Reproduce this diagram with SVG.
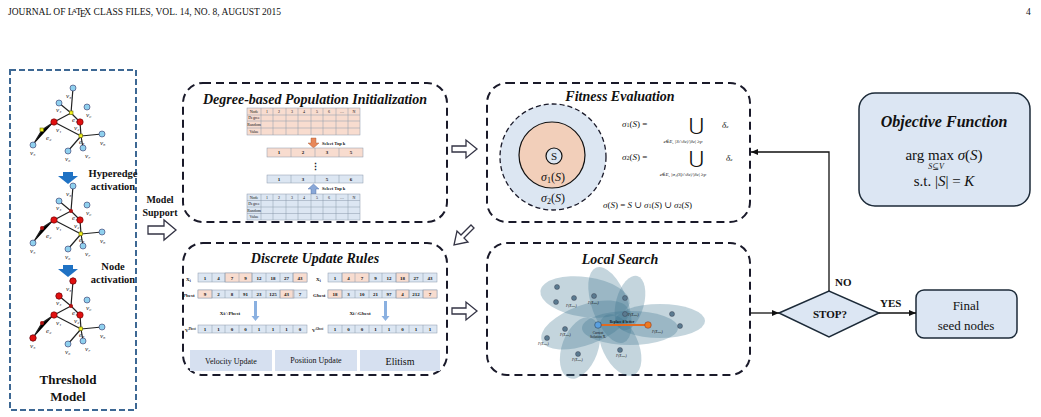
<svg xmlns="http://www.w3.org/2000/svg" width="1041" height="417" viewBox="0 0 1041 417" font-family="'Liberation Serif','DejaVu Serif',serif">
<style>
text{font-family:"Liberation Serif","DejaVu Serif",serif;fill:#111}
.panel{fill:#fff;stroke:#1a1a2a;stroke-width:2;stroke-dasharray:8 5}
.title{font-weight:bold;font-style:italic;font-size:14px;text-anchor:middle}
.e{stroke:#222;stroke-width:1.2}
.bn{fill:#8fd0ee;stroke:#336;stroke-width:.6}
.rn{fill:#e01010;stroke:#600;stroke-width:.6}
.yn{fill:#f0f020;stroke:#660;stroke-width:.6}
.lb{font-style:italic;font-size:7px;fill:#222}
.pc{fill:#f8dccf;stroke:#8a99aa;stroke-width:.5}
.bc{fill:#dce6f2;stroke:#8a99aa;stroke-width:.5}
.ct{font-size:4px;text-anchor:middle}
.ut{font-size:5px;text-anchor:middle;font-weight:bold}
.hol{fill:#fff;stroke:#334;stroke-width:1.3}
.ln{stroke:#111;stroke-width:1.3;fill:none}
.ell{fill:#3d7390;fill-opacity:.3}
.dot{fill:#5a7a90;stroke:#334;stroke-width:.4}
.f{font-size:9px;font-style:italic}
</style>
<defs>
<marker id="ar" markerWidth="8" markerHeight="8" refX="7" refY="4" orient="auto" markerUnits="userSpaceOnUse"><path d="M0,1 L7,4 L0,7z" fill="#111"/></marker>
<g id="graph">
<path class="e" d="M73,88L71,113M59,103L71,113M71,113L54,122M71,113L80,122M54,122L42,130L33,145M54,122L81,136M80,122L81,136M81,136L68,151M81,136L83,148M81,136L102,134"/>
<circle class="bn" cx="73" cy="88" r="3"/><circle class="bn" cx="59" cy="103" r="3"/>
<circle class="bn" cx="87" cy="107" r="3"/><circle class="bn" cx="33" cy="145" r="3"/>
<circle class="bn" cx="68" cy="151" r="3"/><circle class="bn" cx="83" cy="148" r="3"/>
<circle class="bn" cx="102" cy="134" r="3"/>
<circle class="rn" cx="54" cy="122" r="3.2"/><circle class="rn" cx="80" cy="122" r="3.2"/>
<text class="lb" x="66" y="98">v₃</text><text class="lb" x="56" y="112">v₄</text><text class="lb" x="72" y="122">e₁</text>
<text class="lb" x="86" y="117">v₉</text><text class="lb" x="56" y="132">v₁</text><text class="lb" x="74" y="130">v₂</text>
<text class="lb" x="46" y="140">e₂</text><text class="lb" x="79" y="144">e₃</text><text class="lb" x="30" y="155">v₅</text>
<text class="lb" x="65" y="161">v₆</text><text class="lb" x="85" y="158">v₇</text><text class="lb" x="100" y="145">v₈</text>
</g>
</defs>
<rect width="1041" height="417" fill="#fff"/>
<text x="8" y="15" font-size="9.5px">JOURNAL OF L<tspan font-size="7px" dx="-2" dy="-2">A</tspan><tspan dx="-1" dy="2">T</tspan><tspan dx="-1.5" dy="2">E</tspan><tspan dx="-1.5" dy="-2">X CLASS FILES, VOL. 14, NO. 8, AUGUST 2015</tspan></text>
<text x="1026" y="15" font-size="9.5px">4</text>

<g id="threshold-model">
<rect x="10" y="70" width="126" height="340" fill="#fff" stroke="#3d6894" stroke-width="2" stroke-dasharray="6 3"/>
<use href="#graph"/>
<rect x="69.5" y="111" width="3.5" height="3.5" class="yn"/><rect x="40" y="128" width="3.5" height="3.5" class="yn"/><rect x="79" y="134" width="3.5" height="3.5" class="yn"/>
<use href="#graph" y="98"/>
<circle cx="71" cy="211" r="2" fill="#b01010"/><circle cx="42" cy="228" r="2" fill="#b01010"/><rect x="79" y="232" width="3.5" height="3.5" class="yn"/>
<use href="#graph" y="193"/>
<circle class="rn" cx="73" cy="281" r="3.2"/><circle class="rn" cx="59" cy="296" r="3.2"/><circle class="rn" cx="33" cy="338" r="3.2"/>
<circle cx="71" cy="306" r="2" fill="#b01010"/><circle cx="42" cy="323" r="2" fill="#b01010"/><rect x="79" y="327" width="3.5" height="3.5" class="yn"/>
<path d="M63,172h10v4h5l-10,8l-10,-8h5z" fill="#1f72c4"/>
<path d="M63,265h10v4h5l-10,8l-10,-8h5z" fill="#1f72c4"/>
<text x="113" y="177" font-size="10.5px" font-weight="bold" text-anchor="middle">Hyperedge</text>
<text x="113" y="190" font-size="10.5px" font-weight="bold" text-anchor="middle">activation</text>
<text x="113" y="270" font-size="10.5px" font-weight="bold" text-anchor="middle">Node</text>
<text x="113" y="283" font-size="10.5px" font-weight="bold" text-anchor="middle">activation</text>
<text x="68" y="384" font-size="13px" font-weight="bold" text-anchor="middle">Threshold</text>
<text x="68" y="401" font-size="13px" font-weight="bold" text-anchor="middle">Model</text>
</g>

<g id="model-support">
<text x="160" y="203" font-size="10px" font-weight="bold" text-anchor="middle">Model</text>
<text x="160" y="216" font-size="10px" font-weight="bold" text-anchor="middle">Support</text>
</g>

<g id="degree-init">
<rect class="panel" x="183" y="83" width="264" height="139" rx="20"/>
<text class="title" x="315" y="104">Degree-based Population Initialization</text>
<rect x="247" y="108" width="113" height="27" fill="#f8dccf" stroke="#8a99aa" stroke-width=".5"/>
<path d="M247,115h113M247,121h113M247,128h113M261,108v27M273,108v27M286,108v27M298,108v27M311,108v27M323,108v27M336,108v27M348,108v27" stroke="#8a99aa" stroke-width=".5"/>
<text class="ct" x="254" y="113">Node</text><text class="ct" x="254" y="119">Degree</text><text class="ct" x="254" y="126">Random</text><text class="ct" x="254" y="133">Value</text>
<text class="ct" x="267" y="113">1</text><text class="ct" x="279" y="113">2</text><text class="ct" x="292" y="113">3</text><text class="ct" x="304" y="113">4</text><text class="ct" x="317" y="113">5</text><text class="ct" x="329" y="113">6</text><text class="ct" x="342" y="113">…</text><text class="ct" x="354" y="113">N</text>
<path d="M311,138h5v5h3l-5.5,5l-5.5,-5h3z" fill="#e8885a" stroke="#a05030" stroke-width=".4"/>
<text x="322" y="145" font-size="4.5px" font-weight="bold">Select Top k</text>
<rect x="267" y="148" width="96" height="9" fill="#f8dccf" stroke="#8a99aa" stroke-width=".5"/>
<path d="M291,148v9M315,148v9M339,148v9" stroke="#8a99aa" stroke-width=".5"/>
<text class="ut" x="279" y="154">1</text><text class="ut" x="303" y="154">2</text><text class="ut" x="327" y="154">3</text><text class="ut" x="351" y="154">5</text>
<text x="315" y="170" font-size="9px" font-weight="bold" text-anchor="middle">⋮</text>
<rect x="267" y="175" width="96" height="8" fill="#dce6f2" stroke="#8a99aa" stroke-width=".5"/>
<path d="M291,175v8M315,175v8M339,175v8" stroke="#8a99aa" stroke-width=".5"/>
<text class="ut" x="279" y="181">1</text><text class="ut" x="303" y="181">3</text><text class="ut" x="327" y="181">5</text><text class="ut" x="351" y="181">6</text>
<path d="M311,194h5v-5h3l-5.5,-5l-5.5,5h3z" fill="#8aa8d8" stroke="#4060a0" stroke-width=".4"/>
<text x="322" y="190" font-size="4.5px" font-weight="bold">Select Top k</text>
<rect x="247" y="194" width="113" height="26" fill="#dce6f2" stroke="#8a99aa" stroke-width=".5"/>
<path d="M247,200.5h113M247,207h113M247,213.5h113M261,194v26M273,194v26M286,194v26M298,194v26M311,194v26M323,194v26M336,194v26M348,194v26" stroke="#8a99aa" stroke-width=".5"/>
<text class="ct" x="254" y="199">Node</text><text class="ct" x="254" y="205">Degree</text><text class="ct" x="254" y="212">Random</text><text class="ct" x="254" y="218">Value</text>
<text class="ct" x="267" y="199">1</text><text class="ct" x="279" y="199">2</text><text class="ct" x="292" y="199">3</text><text class="ct" x="304" y="199">4</text><text class="ct" x="317" y="199">5</text><text class="ct" x="329" y="199">6</text><text class="ct" x="342" y="199">…</text><text class="ct" x="354" y="199">N</text>
</g>

<g id="discrete-update">
<rect class="panel" x="183" y="243" width="264" height="132" rx="20"/>
<text class="title" x="315" y="263">Discrete Update Rules</text>
<text x="186" y="281" font-size="5px" font-weight="bold">X<tspan font-size="3.5px" dy="1">i</tspan></text>
<text x="183" y="297" font-size="5px" font-weight="bold">Pbest</text>
<text x="185" y="332" font-size="5px" font-weight="bold">V<tspan font-size="3px" dy="-2">Pbest</tspan></text>
<text x="316" y="281" font-size="5px" font-weight="bold">X<tspan font-size="3.5px" dy="1">i</tspan></text>
<text x="313" y="297" font-size="5px" font-weight="bold">Gbest</text>
<text x="312" y="332" font-size="5px" font-weight="bold">V<tspan font-size="3px" dy="-2">Gbest</tspan></text>
<g stroke="#8a99aa" stroke-width=".5">
<rect class="bc" x="198" y="273" width="109" height="9"/><rect class="pc" x="225" y="273" width="27" height="9"/><rect class="pc" x="293" y="273" width="14" height="9"/>
<rect class="bc" x="198" y="290" width="109" height="8"/><rect class="pc" x="198" y="290" width="14" height="8"/><rect class="pc" x="280" y="290" width="14" height="8"/>
<rect class="bc" x="198" y="325" width="109" height="8"/>
<rect class="bc" x="328" y="273" width="109" height="9"/><rect class="pc" x="342" y="273" width="27" height="9"/><rect class="pc" x="396" y="273" width="13" height="9"/>
<rect class="bc" x="328" y="290" width="109" height="8"/><rect class="pc" x="328" y="290" width="14" height="8"/><rect class="pc" x="396" y="290" width="13" height="8"/><rect class="pc" x="423" y="290" width="14" height="8"/>
<rect class="bc" x="328" y="325" width="109" height="8"/>
<path d="M212,273v9M225,273v9M239,273v9M252,273v9M266,273v9M280,273v9M293,273v9M212,290v8M225,290v8M239,290v8M252,290v8M266,290v8M280,290v8M293,290v8M212,325v8M225,325v8M239,325v8M252,325v8M266,325v8M280,325v8M293,325v8M342,273v9M355,273v9M369,273v9M382,273v9M396,273v9M409,273v9M423,273v9M342,290v8M355,290v8M369,290v8M382,290v8M396,290v8M409,290v8M423,290v8M342,325v8M355,325v8M369,325v8M382,325v8M396,325v8M409,325v8M423,325v8"/>
</g>
<g class="ut" font-size="4.5px">
<text x="205" y="280">1</text><text x="218.5" y="280">4</text><text x="232" y="280">7</text><text x="245.5" y="280">9</text><text x="259" y="280">12</text><text x="273" y="280">18</text><text x="286.5" y="280">27</text><text x="300" y="280">43</text>
<text x="205" y="296">9</text><text x="218.5" y="296">2</text><text x="232" y="296">8</text><text x="245.5" y="296">91</text><text x="259" y="296">23</text><text x="273" y="296">125</text><text x="286.5" y="296">43</text><text x="300" y="296">7</text>
<text x="205" y="331">1</text><text x="218.5" y="331">1</text><text x="232" y="331">0</text><text x="245.5" y="331">0</text><text x="259" y="331">1</text><text x="273" y="331">1</text><text x="286.5" y="331">1</text><text x="300" y="331">0</text>
<text x="335" y="280">1</text><text x="348.5" y="280">4</text><text x="362" y="280">7</text><text x="375.5" y="280">9</text><text x="389" y="280">12</text><text x="402.5" y="280">18</text><text x="416" y="280">27</text><text x="430" y="280">43</text>
<text x="335" y="296">18</text><text x="348.5" y="296">3</text><text x="362" y="296">10</text><text x="375.5" y="296">21</text><text x="389" y="296">97</text><text x="402.5" y="296">4</text><text x="416" y="296">212</text><text x="430" y="296">7</text>
<text x="335" y="331">1</text><text x="348.5" y="331">0</text><text x="362" y="331">0</text><text x="375.5" y="331">1</text><text x="389" y="331">1</text><text x="402.5" y="331">0</text><text x="416" y="331">1</text><text x="430" y="331">1</text>
</g>
<path d="M254,301h3v15h2.5l-4,5l-4,-5h2.5z" fill="#8ab0e0"/>
<path d="M384,301h3v15h2.5l-4,5l-4,-5h2.5z" fill="#8ab0e0"/>
<text x="230" y="315" font-size="5px" font-weight="bold" text-anchor="middle">Xi∩Pbest</text>
<text x="360" y="315" font-size="5px" font-weight="bold" text-anchor="middle">Xi∩Gbest</text>
<rect x="190" y="350" width="82" height="21" fill="#d6e0f0"/>
<rect x="275" y="350" width="82" height="21" fill="#d6e0f0"/>
<rect x="360" y="350" width="80" height="21" fill="#d6e0f0"/>
<text x="231" y="364" font-size="8px" text-anchor="middle">Velocity Update</text>
<text x="316" y="363" font-size="8px" text-anchor="middle">Position Update</text>
<text x="400" y="365" font-size="10px" text-anchor="middle">Elitism</text>
</g>

<g id="fitness">
<rect class="panel" x="487" y="83" width="263" height="139" rx="20"/>
<text class="title" x="620" y="101">Fitness Evaluation</text>
<circle cx="553" cy="157" r="53" fill="#dce6f2" stroke="#1a1a2a" stroke-width="1.3" stroke-dasharray="5 3"/>
<circle cx="552" cy="155" r="33" fill="#f2cfba" stroke="#111" stroke-width="1.2"/>
<circle cx="554" cy="156" r="8" fill="#dce6f2" stroke="#111" stroke-width="1.2"/>
<text x="554" y="160" font-size="11px" text-anchor="middle">S</text>
<text x="553" y="181" font-size="12px" text-anchor="middle"><tspan font-style="italic">σ</tspan><tspan font-size="8px" dy="2">1</tspan><tspan dy="-2">(</tspan><tspan font-style="italic">S</tspan>)</text>
<text x="553" y="202" font-size="12px" text-anchor="middle"><tspan font-style="italic">σ</tspan><tspan font-size="8px" dy="2">2</tspan><tspan dy="-2">(</tspan><tspan font-style="italic">S</tspan>)</text>
<text class="f" x="622" y="127">σ<tspan font-size="6px" font-style="normal">1</tspan><tspan font-style="normal">(</tspan>S<tspan font-style="normal">) =</tspan></text>
<text x="696" y="131" font-size="18px" text-anchor="middle">⋃</text>
<text class="f" x="722" y="128">δ<tspan font-size="5px">e</tspan></text>
<text x="683" y="143" font-size="5px" font-style="italic" text-anchor="middle">e∈E, |S∩δ<tspan font-size="4px">e</tspan>|/|δ<tspan font-size="4px">e</tspan>| ≥p</text>
<text class="f" x="622" y="160">σ<tspan font-size="6px" font-style="normal">2</tspan><tspan font-style="normal">(</tspan>S<tspan font-style="normal">) =</tspan></text>
<text x="696" y="164" font-size="18px" text-anchor="middle">⋃</text>
<text class="f" x="726" y="161">δ<tspan font-size="5px">e</tspan></text>
<text x="683" y="176" font-size="5px" font-style="italic" text-anchor="middle">e∈E, |σ₁(S)∩δ<tspan font-size="4px">e</tspan>|/|δ<tspan font-size="4px">e</tspan>| ≥p</text>
<text class="f" x="603" y="208" font-size="10px">σ<tspan font-style="normal">(</tspan>S<tspan font-style="normal">) = </tspan>S<tspan font-style="normal"> ∪ </tspan>σ<tspan font-size="6px" font-style="normal">1</tspan><tspan font-style="normal">(</tspan>S<tspan font-style="normal">) ∪ </tspan>σ<tspan font-size="6px" font-style="normal">2</tspan><tspan font-style="normal">(</tspan>S<tspan font-style="normal">)</tspan></text>
</g>

<g id="local-search">
<rect class="panel" x="487" y="243" width="263" height="132" rx="20"/>
<text class="title" x="620" y="264">Local Search</text>
<ellipse class="ell" cx="585" cy="297" rx="45" ry="20" transform="rotate(8 585 297)"/>
<ellipse class="ell" cx="585" cy="325" rx="46" ry="20" transform="rotate(-20 585 325)"/>
<ellipse class="ell" cx="610" cy="305" rx="18" ry="40" transform="rotate(-20 610 305)"/>
<ellipse class="ell" cx="580" cy="348" rx="18" ry="32" transform="rotate(20 580 348)"/>
<ellipse class="ell" cx="620" cy="345" rx="18" ry="33" transform="rotate(-25 620 345)"/>
<ellipse class="ell" cx="630" cy="303" rx="14" ry="28" transform="rotate(15 630 303)"/>
<ellipse class="ell" cx="660" cy="321" rx="45" ry="17"/>
<ellipse class="ell" cx="630" cy="328" rx="48" ry="17"/>
<g class="dot">
<circle cx="557" cy="287" r="2.5"/><circle cx="556" cy="302" r="2.5"/><circle cx="574" cy="298" r="2.5"/><circle cx="594" cy="296" r="2.5"/>
<circle cx="625" cy="298" r="2.5"/><circle cx="625" cy="314" r="2.5"/><circle cx="672" cy="314" r="2.5"/><circle cx="680" cy="326" r="2.5"/>
<circle cx="565" cy="329" r="2.5"/><circle cx="547" cy="338" r="2.5"/><circle cx="578" cy="354" r="2.5"/><circle cx="620" cy="350" r="2.5"/>
</g>
<line x1="598" y1="325" x2="648" y2="325" stroke="#e06a20" stroke-width="2"/>
<circle cx="598" cy="325" r="3.3" fill="#5aa0e0" stroke="#234" stroke-width=".5"/>
<circle cx="648" cy="325" r="3.3" fill="#ee7a20" stroke="#733" stroke-width=".5"/>
<text x="622" y="323" font-size="3.5px" font-weight="bold" text-anchor="middle">Replace if better</text>
<text x="598" y="334" font-size="3.5px" text-anchor="middle">Current</text>
<text x="598" y="338" font-size="3.5px" text-anchor="middle">Solution X<tspan font-size="2.5px">i</tspan></text>
<g font-size="3.5px" font-style="italic">
<text x="566" y="307">F(X<tspan font-size="2.5px">new</tspan>)</text><text x="588" y="304">F(X<tspan font-size="2.5px">new</tspan>)</text>
<text x="628" y="316">F(X<tspan font-size="2.5px">new</tspan>)</text><text x="652" y="333">F(X<tspan font-size="2.5px">new</tspan>)</text>
<text x="560" y="336">F(X<tspan font-size="2.5px">new</tspan>)</text><text x="538" y="345">F(X<tspan font-size="2.5px">new</tspan>)</text>
<text x="572" y="361">F(X<tspan font-size="2.5px">new</tspan>)</text><text x="616" y="357">F(X<tspan font-size="2.5px">new</tspan>)</text>
</g>
</g>

<g id="objective">
<rect x="859" y="93" width="171" height="113" rx="16" fill="#dce6f3" stroke="#1c2a38" stroke-width="1.5"/>
<text x="944" y="127" font-size="16px" font-weight="bold" font-style="italic" text-anchor="middle">Objective Function</text>
<text x="944" y="160" font-size="15px" text-anchor="middle">arg max <tspan font-style="italic">σ</tspan>(<tspan font-style="italic">S</tspan>)</text>
<text x="936" y="169" font-size="8px" font-style="italic" text-anchor="middle">S⊆V</text>
<text x="944" y="186" font-size="15px" text-anchor="middle">s.t. |<tspan font-style="italic">S</tspan>| = <tspan font-style="italic">K</tspan></text>
</g>

<g id="stop">
<polygon points="779,313 829,291 879,313 829,337" fill="#dce6f3" stroke="#1c2a38" stroke-width="1.5"/>
<text x="830" y="318" font-size="11px" font-weight="bold" text-anchor="middle">STOP?</text>
</g>
<g id="final">
<rect x="916" y="290" width="101" height="48" rx="8" fill="#dce6f3" stroke="#1c2a38" stroke-width="1.5"/>
<text x="966" y="310" font-size="13px" text-anchor="middle">Final</text>
<text x="966" y="330" font-size="13px" text-anchor="middle">seed nodes</text>
</g>

<g id="connectors">
<path class="hol" d="M148,226h16v-6l12,10l-12,10v-6h-16z"/>
<path class="hol" d="M452,146h14v-6l11,9l-11,9v-6h-14z"/>
<path class="hol" d="M452,308h14v-6l11,9l-11,9v-6h-14z"/>
<path class="hol" d="M474,228l-10,10l4,4l-14,3l3,-14l4,4l10,-10z"/>
<path class="ln" d="M750,313H779" marker-end="url(#ar)"/>
<path class="ln" d="M829,291V152H751" marker-end="url(#ar)"/>
<path class="ln" d="M879,313H916" marker-end="url(#ar)"/>
<text x="835" y="286" font-size="11px" font-weight="bold">NO</text>
<text x="880" y="307" font-size="11px" font-weight="bold">YES</text>
</g>
</svg>
